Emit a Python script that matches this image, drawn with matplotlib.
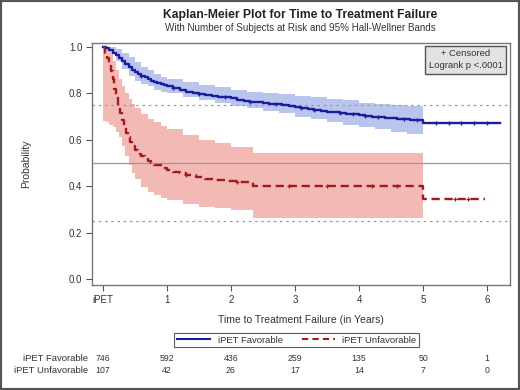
import numpy as np
import matplotlib
matplotlib.use("Agg")
from matplotlib import pyplot as plt
from matplotlib.patches import Rectangle
from matplotlib.lines import Line2D

plt.rcParams['font.family'] = ['Liberation Sans', 'DejaVu Sans']

# iPET Favorable: KM step curve
fav_t = [0, 0.05, 0.1, 0.15, 0.2, 0.25, 0.3, 0.35, 0.4, 0.45, 0.5, 0.55, 0.6, 0.65, 0.7,
         0.75, 0.8, 0.85, 0.9, 0.95, 1.0, 1.1, 1.2, 1.3, 1.4, 1.5, 1.6, 1.7, 1.8, 1.9,
         2.0, 2.1, 2.2, 2.3, 2.4, 2.5, 2.6, 2.7, 2.8, 2.9, 3.0, 3.1, 3.2, 3.3, 3.4, 3.5,
         3.6, 3.7, 3.8, 3.9, 4.0, 4.1, 4.2, 4.3, 4.4, 4.5, 4.6, 4.7, 4.8, 4.9, 5.0]
fav_s = [1.0, 0.993, 0.985, 0.975, 0.963, 0.95, 0.937, 0.925, 0.912, 0.902, 0.892, 0.884,
         0.876, 0.868, 0.861, 0.855, 0.849, 0.844, 0.839, 0.834, 0.83, 0.822, 0.813, 0.807,
         0.802, 0.797, 0.793, 0.789, 0.786, 0.782, 0.778, 0.772, 0.766, 0.763, 0.761,
         0.759, 0.756, 0.753, 0.749, 0.745, 0.741, 0.737, 0.733, 0.728, 0.723, 0.72, 0.718,
         0.716, 0.712, 0.709, 0.706, 0.703, 0.70, 0.697, 0.694, 0.692, 0.69, 0.688, 0.686,
         0.684, 0.672]
fav_end = 6.2
fav_cens = [0.6, 1.1, 1.5, 1.9, 2.3, 2.7, 3.1, 3.3, 3.7, 3.9, 4.1, 4.3, 4.7, 4.9,
            5.2, 5.4, 5.6, 5.8, 6.0]
# 95% Hall-Wellner band (favorable)
fav_bt = [0, 0.1, 0.2, 0.3, 0.4, 0.5, 0.6, 0.7, 0.8, 0.9, 1.0, 1.25, 1.5, 1.75, 2.0,
          2.25, 2.5, 2.75, 3.0, 3.25, 3.5, 3.75, 4.0, 4.25, 4.5, 4.75, 5.0]
fav_hi = [1.0, 0.998, 0.99, 0.975, 0.955, 0.935, 0.915, 0.9, 0.885, 0.872, 0.862, 0.848,
          0.835, 0.825, 0.815, 0.805, 0.80, 0.795, 0.79, 0.785, 0.775, 0.77, 0.76, 0.755,
          0.75, 0.745, 0.74]
fav_lo = [1.0, 0.97, 0.94, 0.905, 0.875, 0.855, 0.84, 0.83, 0.815, 0.805, 0.80, 0.785,
          0.77, 0.76, 0.745, 0.735, 0.725, 0.715, 0.70, 0.69, 0.675, 0.665, 0.655, 0.645,
          0.635, 0.625, 0.615]

# iPET Unfavorable: KM step curve
unf_t = [0, 0.03, 0.06, 0.09, 0.12, 0.15, 0.18, 0.21, 0.24, 0.27, 0.3, 0.33, 0.36, 0.39,
         0.42, 0.46, 0.5, 0.55, 0.6, 0.65, 0.7, 0.75, 0.8, 0.9, 1.0, 1.1, 1.2, 1.3, 1.45,
         1.6, 1.75, 1.9, 2.1, 2.35, 5.0]
unf_s = [1.0, 0.975, 0.95, 0.925, 0.895, 0.86, 0.82, 0.78, 0.745, 0.715, 0.685, 0.655,
         0.63, 0.61, 0.59, 0.572, 0.556, 0.54, 0.528, 0.518, 0.508, 0.5, 0.492, 0.478,
         0.468, 0.46, 0.455, 0.448, 0.44, 0.433, 0.428, 0.422, 0.418, 0.40, 0.345]
unf_end = 5.97
unf_cens = [1.3, 2.1, 2.9, 3.5, 4.2, 4.6, 5.5, 5.7]
# 95% Hall-Wellner band (unfavorable)
unf_bt = [0, 0.05, 0.1, 0.15, 0.2, 0.25, 0.3, 0.35, 0.4, 0.45, 0.5, 0.6, 0.7, 0.8, 0.9,
          1.0, 1.25, 1.5, 1.75, 2.0, 2.35, 5.0]
unf_hi = [1.0, 1.0, 0.98, 0.94, 0.9, 0.86, 0.83, 0.8, 0.775, 0.755, 0.735, 0.71, 0.69,
          0.675, 0.66, 0.645, 0.62, 0.6, 0.585, 0.57, 0.545, 0.545]
unf_lo = [0.68, 0.675, 0.665, 0.655, 0.635, 0.61, 0.575, 0.53, 0.49, 0.455, 0.43, 0.395,
          0.375, 0.36, 0.35, 0.34, 0.325, 0.31, 0.305, 0.298, 0.262, 0.262]

# number at risk
risk_times = [0, 1, 2, 3, 4, 5, 6]
risk_fav = [746, 592, 436, 259, 135, 50, 1]
risk_unf = [107, 42, 26, 17, 14, 7, 0]

blue = '#1c1ca0'
red = '#a01c1c'
txtc = '#333333'

fig = plt.figure(figsize=(5.2, 3.9), dpi=100)
ax = fig.add_axes([0.177, 0.269, 0.804, 0.621])


def band(t, lo, hi, color):
    ax.fill_between(t, lo, hi, step='post', color=color, lw=0, zorder=1)


def curve(t, s, t_end, color, ls, cens):
    tt = list(t) + [t_end]
    ss = list(s) + [s[-1]]
    ax.step(tt, ss, where='post', color=color, lw=1.7, ls=ls, zorder=3)
    idx = np.searchsorted(t, cens, side='right') - 1
    ax.plot(cens, np.array(s)[idx], '+', color=color, ms=3, mew=0.9, zorder=4)


band(fav_bt, fav_lo, fav_hi, '#b9c5ec')
band(unf_bt, unf_lo, unf_hi, '#f3b9b5')

for y, ls in [(0.75, (0, (2, 3))), (0.5, '-'), (0.25, (0, (2, 3)))]:
    ax.axhline(y, color='#9a9a9a', lw=0.9, ls=ls, zorder=2)

curve(fav_t, fav_s, fav_end, blue, '-', fav_cens)
curve(unf_t, unf_s, unf_end, red, (0, (3.5, 2)), unf_cens)

ax.set_xlim(-0.17, 6.36)
ax.set_ylim(-0.026, 1.017)
ax.set_xticks(risk_times)
ax.set_xticklabels(['iPET', '1', '2', '3', '4', '5', '6'])
ax.set_yticks([0, 0.2, 0.4, 0.6, 0.8, 1.0])
ax.set_yticklabels(['0.0', '0.2', '0.4', '0.6', '0.8', '1.0'])
ax.tick_params(labelsize=7, length=4, width=0.8, color='#555555', labelcolor=txtc, pad=3)
for sp in ax.spines.values():
    sp.set_color('#777777')
    sp.set_linewidth(1.0)
ax.set_ylabel('Probability', fontsize=7.5, color=txtc, labelpad=27)
ax.set_xlabel('Time to Treatment Failure (in Years)', fontsize=7.5, color=txtc, labelpad=7)

# stats box
ax.text(0.982, 0.975, '+ Censored\nLogrank p <.0001', transform=ax.transAxes,
        ha='right', va='top', fontsize=6.8, color=txtc, linespacing=1.5,
        multialignment='center',
        bbox=dict(boxstyle='square,pad=0.35', fc='#e2e2e2', ec='#555555', lw=1.0))

fig.text(0.577, 0.962, 'Kaplan-Meier Plot for Time to Treatment Failure', ha='center',
         va='center', fontsize=8.7, fontweight='bold', color='#222222')
fig.text(0.577, 0.928, 'With Number of Subjects at Risk and 95% Hall-Wellner Bands',
         ha='center', va='center', fontsize=7.1, color=txtc)

handles = [Line2D([], [], color=blue, lw=1.5),
           Line2D([], [], color=red, lw=1.5, ls=(0, (3, 2)))]
leg = fig.legend(handles, ['iPET Favorable', 'iPET Unfavorable'], loc='center',
                 bbox_to_anchor=(0.571, 0.128), ncol=2, fontsize=6.8, frameon=True,
                 fancybox=False, edgecolor='#333333', handlelength=3.5,
                 columnspacing=2.0, borderpad=0.3, handletextpad=0.8)
leg.get_frame().set_linewidth(0.8)
for txt in leg.get_texts():
    txt.set_color(txtc)

# at-risk table
for row, (label, counts) in enumerate([('iPET Favorable', risk_fav),
                                       ('iPET Unfavorable', risk_unf)]):
    yfig = 0.0795 - row * 0.0285
    fig.text(0.170, yfig, label, ha='right', va='center', fontsize=6.8, color=txtc)
    for t, n in zip(risk_times, counts):
        xfig = ax.transData.transform((t, 0))[0] / fig.bbox.width
        fig.text(xfig, yfig, str(n), ha='center', va='center', fontsize=6.3, color=txtc)

fig.add_artist(Rectangle((0, 0), 1, 1, transform=fig.transFigure, fill=False,
                         lw=3, ec='#555555'))

fig.savefig('out.png', dpi=100)
